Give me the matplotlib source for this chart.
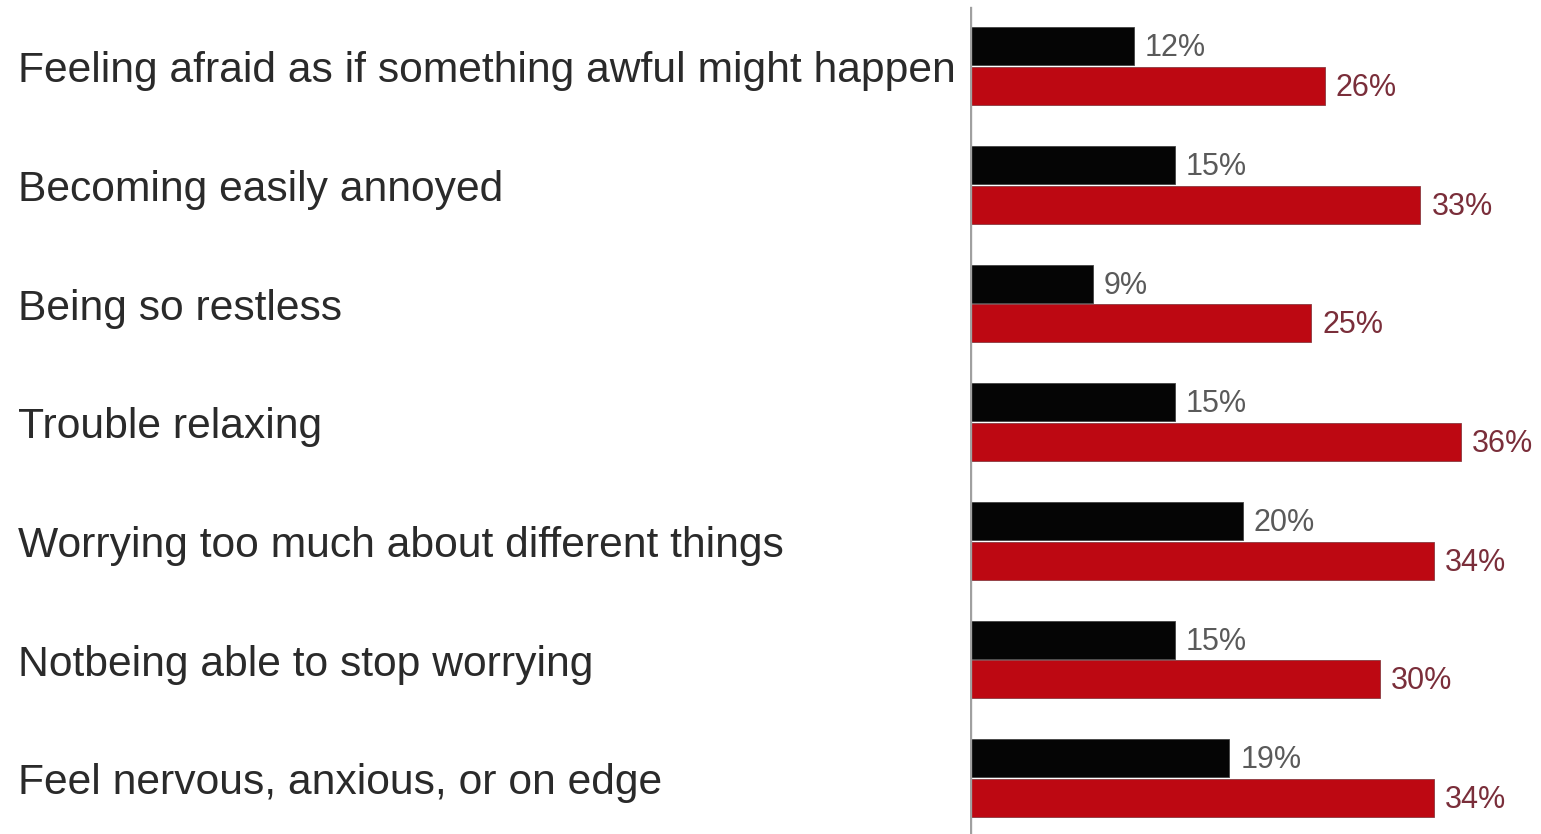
import numpy as np
import matplotlib.pyplot as plt
from matplotlib.transforms import blended_transform_factory

categories = [
    'Feeling afraid as if something awful might happen',
    'Becoming easily annoyed',
    'Being so restless',
    'Trouble relaxing',
    'Worrying too much about different things',
    'Notbeing able to stop worrying',
    'Feel nervous, anxious, or on edge',
]
black_vals = [12, 15, 9, 15, 20, 15, 19]
red_vals = [26, 33, 25, 36, 34, 30, 34]

plt.rcParams['font.family'] = ['Liberation Sans', 'DejaVu Sans']

W, H = 1541, 834
fig = plt.figure(figsize=(W / 100, H / 100), dpi=100)
fig.patch.set_facecolor('white')

# axes starts at the vertical baseline and runs to the right edge
ax = fig.add_axes([970 / W, 0, (W - 970) / W, 1])
ax.set_facecolor('none')

y = np.arange(len(categories))
bh = 0.32
ax.barh(y - 0.165, black_vals, height=bh, color='#050505',
        edgecolor='#444444', linewidth=0.6)
ax.barh(y + 0.168, red_vals, height=bh, color='#bd0812',
        edgecolor='#8a3a40', linewidth=0.6)

for i in range(len(categories)):
    ax.text(black_vals[i] + 0.8, y[i] - 0.15, f'{black_vals[i]}%',
            va='center', ha='left', fontsize=22, color='#5a5a5a')
    ax.text(red_vals[i] + 0.8, y[i] + 0.185, f'{red_vals[i]}%',
            va='center', ha='left', fontsize=22, color='#7a2e3a')

trans = blended_transform_factory(fig.transFigure, ax.transData)
for i, c in enumerate(categories):
    ax.text(18 / W, y[i] + 0.045, c, transform=trans, ha='left', va='center',
            fontsize=30.7, color='#2a2a2a')

ax.axvline(0, ymin=0, ymax=1 - 8 / H, color='#a0a0a0', linewidth=2.4)

ax.set_xlim(0, (W - 970) / 13.65)
ax.set_ylim((H - 66) / 118.67, -66 / 118.67)
ax.axis('off')

fig.savefig('out.png', dpi=100)
